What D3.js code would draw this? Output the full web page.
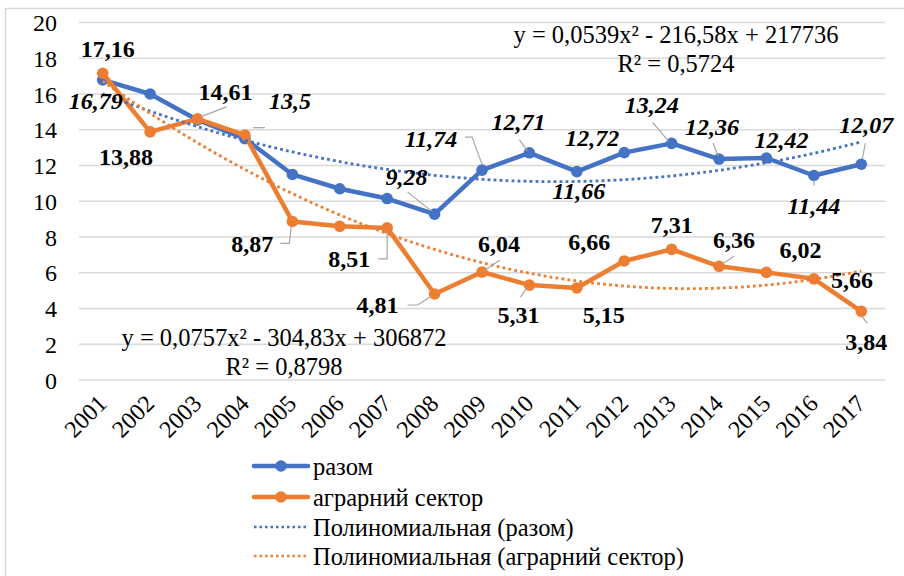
<!DOCTYPE html>
<html><head><meta charset="utf-8">
<script src="https://cdn.jsdelivr.net/npm/d3@7"></script>
<style>body{margin:0;background:#fff}svg{display:block}</style>
</head><body><svg id="c" width="904" height="576"></svg>
<script>
const years = ["2001","2002","2003","2004","2005","2006","2007","2008","2009","2010","2011","2012","2013","2014","2015","2016","2017"];
const razom = [16.79,16.0,14.55,13.5,11.5,10.7,10.15,9.28,11.74,12.71,11.66,12.72,13.24,12.36,12.42,11.44,12.07];
const agrar = [17.16,13.88,14.61,13.7,8.87,8.6,8.51,4.81,6.04,5.31,5.15,6.66,7.31,6.36,6.02,5.66,3.84];
const razomLabeled = [1,0,0,1,0,0,0,1,1,1,1,1,1,1,1,1,1];
const agrarLabeled = [1,1,1,0,1,0,1,1,1,1,1,1,1,1,1,1,1];
const yTicks = [0,2,4,6,8,10,12,14,16,18,20];
const seriesNames = ["разом","аграрний сектор","Полиномиальная (разом)","Полиномиальная (аграрний сектор)"];
const eqRazom = ["y = 0,0539x² - 216,58x + 217736","R² = 0,5724"];
const eqAgrar = ["y = 0,0757x² - 304,83x + 306872","R² = 0,8798"];

// layout: label offsets [dx, dy(baseline)] and leader polylines relative to point
const razomLayout = [
  {d:[-7,29]},null,null,
  {d:[45,-30],l:[[8,-11],[20,-11]]},null,null,null,
  {d:[-28,-29],l:[[-27,-22],[-3,-3]]},
  {d:[-51,-23],l:[[-17,-33],[-10,-33],[0,-6]]},
  {d:[-11,-23],l:[[-10,-13],[-2,-2]]},
  {d:[2,27]},
  {d:[-32,-7]},
  {d:[-20,-30],l:[[-19,-21],[-3,-2]]},
  {d:[-7,-24],l:[[-6,-16],[-1,-3]]},
  {d:[15,-10]},
  {d:[0,38],l:[[0,5],[0,10]]},
  {d:[5,-31],l:[[4,-21],[1,-5]]}
];
const agrarLayout = [
  {d:[5,-16]},
  {d:[-24,33]},
  {d:[28,-19],l:[[3,-2],[29,-12]]},
  null,
  {d:[-40,31],l:[[-12,22],[-3,22],[-1,4]]},
  null,
  {d:[-38,39],l:[[-9,31],[0,31],[0,4]]},
  {d:[-57,19],l:[[-27,11],[-17,11],[-3,2]]},
  {d:[17,-20],l:[[3,-2],[18,-12]]},
  {d:[-11,38],l:[[-9,12],[-2,2]]},
  {d:[27,35]},
  {d:[-35,-11]},
  {d:[0,-16]},
  {d:[15,-18],l:[[3,-2],[15,-10]]},
  {d:[34,-14]},
  {d:[38,9]},
  {d:[5,39],l:[[0,4],[6,12]]}
];

const BLUE = "#4472C4", ORANGE = "#ED7D31", GRID = "#d9d9d9";
const FONT = '"Liberation Serif","Times New Roman",serif';

const svg = d3.select("#c");
svg.append("rect").attr("x",5.5).attr("y",8.5).attr("width",930).attr("height",600)
  .attr("fill","#fff").attr("stroke",GRID).attr("stroke-width",1.5);

const x = d3.scalePoint().domain(years).range([79,885]).padding(0.5);
const y = d3.scaleLinear().domain([0,20]).range([380,22.5]);

// grid
svg.append("g").selectAll("line").data(yTicks).join("line")
  .attr("x1",79).attr("x2",885).attr("y1",d=>y(d)).attr("y2",d=>y(d))
  .attr("stroke",GRID).attr("stroke-width",1.5);

// y axis labels
const yAxis = d3.axisLeft(y).tickValues(yTicks).tickSize(0).tickPadding(0).tickFormat(d=>d);
const gy = svg.append("g").attr("transform","translate(57,0)").call(yAxis);
gy.select(".domain").remove();
gy.selectAll("text").style("font-family",FONT).attr("font-size",24).attr("fill","#000").attr("dy","0.34em");

// x axis labels
const xAxis = d3.axisBottom(x).tickSize(0).tickPadding(0);
const gx = svg.append("g").attr("transform","translate(0,380)").call(xAxis);
gx.select(".domain").remove();
gx.selectAll("text").style("font-family",FONT).attr("font-size",24).attr("fill","#000")
  .attr("text-anchor","end").attr("dy",0).attr("y",0)
  .attr("transform","translate(5,25) rotate(-45)");

// quadratic least-squares trend (on index)
function quadFit(vals){
  let S=[0,0,0,0,0], T=[0,0,0];
  vals.forEach((v,i)=>{const t=i+1; for(let k=0;k<5;k++)S[k]+=Math.pow(t,k); for(let k=0;k<3;k++)T[k]+=v*Math.pow(t,k);});
  const A=[[S[0],S[1],S[2],T[0]],[S[1],S[2],S[3],T[1]],[S[2],S[3],S[4],T[2]]];
  for(let i=0;i<3;i++){for(let j=i+1;j<3;j++){const f=A[j][i]/A[i][i];for(let k=i;k<4;k++)A[j][k]-=f*A[i][k];}}
  const c=[0,0,0];
  for(let i=2;i>=0;i--){let s=A[i][3];for(let k=i+1;k<3;k++)s-=A[i][k]*c[k];c[i]=s/A[i][i];}
  return t=>c[0]+c[1]*t+c[2]*t*t;
}
function trendPts(vals){
  const f=quadFit(vals); const pts=[];
  for(let s=0;s<=160;s++){const t=1+s*(vals.length-1)/160; pts.push([t,f(t)]);}
  return pts;
}
const xi = d3.scaleLinear().domain([1,years.length]).range([x(years[0]),x(years[years.length-1])]);
const line = d3.line().x((d,i)=>x(years[i])).y(d=>y(d));
const tline = d3.line().x(d=>xi(d[0])).y(d=>y(d[1]));

function drawSeries(vals,color){
  svg.append("path").datum(vals).attr("d",line).attr("fill","none").attr("stroke",color)
    .attr("stroke-width",4.5).attr("stroke-linejoin","round").attr("stroke-linecap","round");
  svg.append("g").selectAll("circle").data(vals).join("circle")
    .attr("cx",(d,i)=>x(years[i])).attr("cy",d=>y(d)).attr("r",5.8).attr("fill",color);
}
drawSeries(razom,BLUE);
drawSeries(agrar,ORANGE);

function drawTrend(vals,color){
  svg.append("path").datum(trendPts(vals)).attr("d",tline).attr("fill","none").attr("stroke",color)
    .attr("stroke-width",2.8).attr("stroke-dasharray","2.8,3.2");
}
drawTrend(razom,BLUE);
drawTrend(agrar,ORANGE);

function drawLabels(vals,labeled,layout,italic){
  const g=svg.append("g");
  vals.forEach((v,i)=>{
    if(!labeled[i]||!layout[i])return;
    const px=x(years[i]), py=y(v), L=layout[i];
    if(L.l){
      g.append("polyline").attr("points",L.l.map(p=>[px+p[0],py+p[1]].join(",")).join(" "))
        .attr("fill","none").attr("stroke","#a6a6a6").attr("stroke-width",1.2);
    }
    g.append("text").attr("x",px+L.d[0]).attr("y",py+L.d[1]).attr("text-anchor","middle")
      .style("font-family",FONT).attr("font-size",24).attr("font-weight","bold")
      .attr("font-style",italic?"italic":"normal").attr("fill","#000")
      .text(String(v).replace(".",","));
  });
}
drawLabels(razom,razomLabeled,razomLayout,true);
drawLabels(agrar,agrarLabeled,agrarLayout,false);

// equations
function eqText(lines,cx,y0){
  lines.forEach((t,k)=>{
    svg.append("text").attr("x",cx).attr("y",y0+k*29).attr("text-anchor","middle")
      .style("font-family",FONT).attr("font-size",24.5).attr("fill","#000").text(t);
  });
}
eqText(eqRazom,676,43);
eqText(eqAgrar,284,346);

// legend
const legY=[466,497,527,556];
const lg=svg.append("g");
seriesNames.forEach((n,k)=>{
  const c = k%2===0?BLUE:ORANGE, yy=legY[k];
  if(k<2){
    lg.append("line").attr("x1",254).attr("x2",308).attr("y1",yy).attr("y2",yy).attr("stroke",c).attr("stroke-width",4.5).attr("stroke-linecap","round");
    lg.append("circle").attr("cx",281).attr("cy",yy).attr("r",5.8).attr("fill",c);
  } else {
    lg.append("line").attr("x1",254).attr("x2",308).attr("y1",yy).attr("y2",yy).attr("stroke",c).attr("stroke-width",2.5).attr("stroke-dasharray","2.5,3");
  }
  lg.append("text").attr("x",313).attr("y",yy+9).style("font-family",FONT).attr("font-size",24.5).attr("fill","#000").text(n);
});
</script></body></html>
